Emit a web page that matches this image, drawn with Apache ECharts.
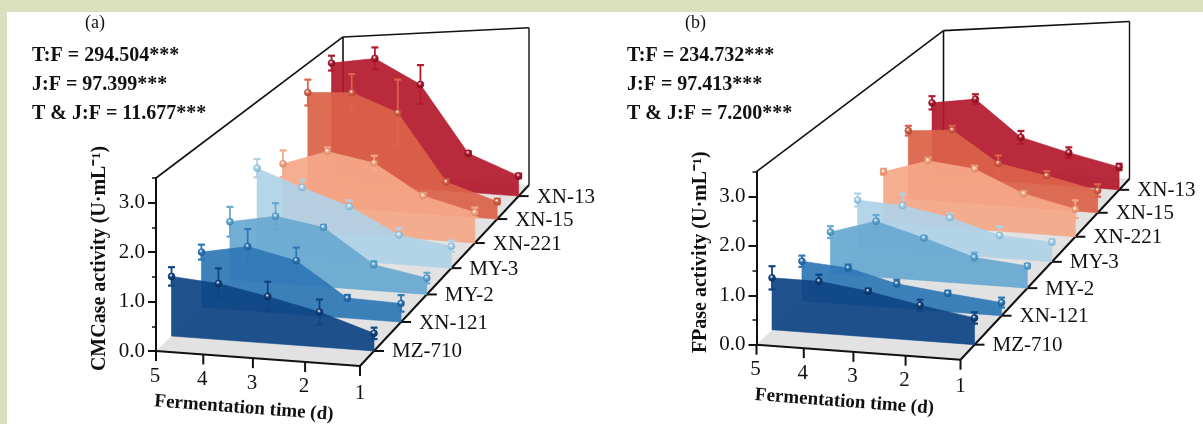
<!DOCTYPE html>
<html><head><meta charset="utf-8">
<script src="https://cdn.jsdelivr.net/npm/echarts@6/dist/echarts.min.js"></script>
<style>html,body{margin:0;padding:0;background:#fff}#c{width:1203px;height:424px}</style>
</head><body><div id="c"></div>
<script>
var days = [5, 4, 3, 2, 1];
var strains = ['MZ-710', 'XN-121', 'MY-2', 'MY-3', 'XN-221', 'XN-15', 'XN-13'];
var yTicks = [0, 1, 2, 3];

// Panel (a) CMCase activity, day 5 -> day 1
var cmcMZ710 = [1.23, 1.11, 0.89, 0.64, 0.31];
var cmcXN121 = [1.18, 1.32, 1.06, 0.38, 0.34];
var cmcMY2   = [1.29, 1.43, 1.22, 0.51, 0.31];
var cmcMY3   = [1.97, 1.54, 1.15, 0.60, 0.43];
var cmcXN221 = [1.55, 1.85, 1.60, 0.92, 0.62];
var cmcXN15  = [2.78, 2.75, 2.26, 0.73, 0.37];
var cmcXN13  = [3.05, 3.13, 2.47, 0.89, 0.44];
var cmcErrMZ710 = [0.19, 0.30, 0.28, 0.23, 0.10];
var cmcErrXN121 = [0.16, 0.36, 0.26, 0.06, 0.15];
var cmcErrMY2   = [0.33, 0.28, 0.05, 0.07, 0.10];
var cmcErrMY3   = [0.21, 0.17, 0.13, 0.14, 0.11];
var cmcErrXN221 = [0.32, 0.09, 0.16, 0.06, 0.10];
var cmcErrXN15  = [0.32, 0.44, 0.76, 0.06, 0.06];
var cmcErrXN13  = [0.19, 0.27, 0.46, 0.04, 0.05];

// Panel (b) FPase activity, day 5 -> day 1
var fpMZ710 = [1.07, 1.03, 0.87, 0.65, 0.47];
var fpXN121 = [0.85, 0.75, 0.48, 0.35, 0.24];
var fpMY2   = [0.92, 1.19, 0.87, 0.53, 0.42];
var fpMY3   = [1.09, 1.00, 0.78, 0.46, 0.39];
var fpXN221 = [1.21, 1.49, 1.33, 0.83, 0.56];
var fpXN15  = [1.68, 1.71, 0.96, 0.73, 0.47];
var fpXN13  = [1.87, 1.97, 1.07, 0.76, 0.50];
var fpErrMZ710 = [0.24, 0.13, 0.05, 0.10, 0.10];
var fpErrXN121 = [0.12, 0.07, 0.08, 0.05, 0.09];
var fpErrMY2   = [0.13, 0.13, 0.04, 0.09, 0.04];
var fpErrMY3   = [0.15, 0.26, 0.08, 0.18, 0.05];
var fpErrXN221 = [0.07, 0.07, 0.07, 0.06, 0.18];
var fpErrXN15  = [0.12, 0.10, 0.18, 0.10, 0.13];
var fpErrXN13  = [0.17, 0.12, 0.15, 0.12, 0.07];

var colors = ['#0f4585', '#2f78b7', '#68a9d1', '#afd2e7', '#f5a888', '#dc6249', '#b41a2e'];
var edge   = ['#0a2f5c', '#1c5a92', '#3f86b5', '#7fb2d2', '#d98a68', '#b04a33', '#7f0f1f'];
var serif = '"Liberation Serif","Times New Roman",serif';

// Camera: floor corners relative to the front-left axis origin, in px of a 204x173 box
var cam = { brX: 373, brY: -166, blX: 187, blY: -180, frY: 15, kU: 1.105, kV: 1.177,
            hFL: 1, hFR: 1.172, hBL: 0.775, hBR: 0.909 };
function warp(cs, px, py, vFrac) {
  var s = (px - cs.x) / cs.width;
  var u = s / (s + cam.kU * (1 - s));
  var v = vFrac;
  var hf = (cam.hFL * (1 - u) + cam.hFR * u) * (1 - v) + (cam.hBL * (1 - u) + cam.hBR * u) * v;
  var rise = (cs.y + cs.height - py) * hf;
  var fx = u * cs.width * (1 - v) + (cam.blX * (1 - u) + cam.brX * u) * v;
  var fy = u * cam.frY * (1 - v) + (cam.blY * (1 - u) + cam.brY * u) * v;
  return [cs.x + fx, cs.y + cs.height + fy - rise];
}
function vOf(i) { var t = (i + 0.5) / strains.length; return t * cam.kV / (1 + t * (cam.kV - 1)); }

function ribbon(idx, name, vals, errs, gridIdx) {
  var rows = days.map(function (d, j) { return [d, vals[j], errs[j]]; });
  return {
    type: 'custom', name: name, xAxisIndex: gridIdx, yAxisIndex: gridIdx * 2, z: 9 - idx, silent: true,
    data: rows, clip: false,
    renderItem: function (params, api) {
      var cs = params.coordSys, v = vOf(idx);
      function P(d, y) { var c = api.coord([d, y]); return warp(cs, c[0], c[1], v); }
      var d = api.value(0), y = api.value(1), e = api.value(2), kids = [];
      var p = P(d, y), top = P(d, y + e), bot = P(d, y - e), cap = 3.5, col = colors[idx];
      kids.push({ type: 'line', z2: 1, shape: { x1: top[0], y1: top[1], x2: bot[0], y2: bot[1] }, style: { stroke: col, lineWidth: 1.8 } });
      kids.push({ type: 'line', z2: 1, shape: { x1: top[0] - cap, y1: top[1], x2: top[0] + cap, y2: top[1] }, style: { stroke: col, lineWidth: 2.2 } });
      kids.push({ type: 'line', z2: 1, shape: { x1: bot[0] - cap, y1: bot[1], x2: bot[0] + cap, y2: bot[1] }, style: { stroke: col, lineWidth: 2.2 } });
      if (params.dataIndex === 0) {
        var pts = rows.map(function (r) { return P(r[0], r[1]); });
        pts.push(P(days[days.length - 1], 0));
        pts.push(P(days[0], 0));
        kids.push({ type: 'polygon', z2: 2, shape: { points: pts }, style: { fill: col, opacity: 0.93, stroke: col, lineWidth: 0.6 } });
      }
      kids.push({ type: 'circle', z2: 3, shape: { cx: p[0], cy: p[1], r: 3.4 }, style: {
        fill: { type: 'radial', x: 0.42, y: 0.36, r: 0.62, colorStops: [
          { offset: 0, color: '#ffffff' }, { offset: 0.4, color: col }, { offset: 1, color: edge[idx] }] },
        stroke: edge[idx], lineWidth: 0.7 } });
      return { type: 'group', children: kids };
    }
  };
}

function frame(gridIdx) {
  return {
    type: 'custom', xAxisIndex: gridIdx, yAxisIndex: gridIdx * 2, z: 1, silent: true, clip: false,
    data: [[days[0], 0]],
    renderItem: function (params, api) {
      var cs = params.coordSys, kids = [];
      var yMax = 3.5;
      function P(d, y, v) { var c = api.coord([d, y]); return warp(cs, c[0], c[1], v); }
      var a = P(5, 0, 0), b = P(1, 0, 0), c = P(1, 0, 1), e = P(5, 0, 1);
      var at = P(5, yMax, 0), ct = P(1, yMax, 1), et = P(5, yMax, 1);
      kids.push({ type: 'polygon', shape: { points: [a, b, c, e] }, style: { fill: '#e2e2e2' } });
      function L(p, q, w) { kids.push({ type: 'line', shape: { x1: p[0], y1: p[1], x2: q[0], y2: q[1] }, style: { stroke: '#111', lineWidth: w || 1.6 } }); }
      L(at, et); L(et, ct); L(ct, c, 1.4); L(et, e, 1.6);
      L(a, b, 2); L(b, c, 2);
      days.forEach(function (d) {
        var q = P(d, 0, 0);
        L(q, [q[0], q[1] + 10], 2);
        kids.push({ type: 'text', style: { text: String(d), x: q[0] - (d === 1 ? 0 : 1), y: q[1] + 23 + (d === 1 ? 4 : 2), align: 'center', verticalAlign: 'middle', font: '21px ' + serif, fill: '#111' } });
      });
      strains.forEach(function (s, i) {
        var q = P(1, 0, vOf(i));
        L(q, [q[0] + 10, q[1]], 2);
        kids.push({ type: 'text', style: { text: s, x: q[0] + 18, y: q[1] + 1, align: 'left', verticalAlign: 'middle', font: '21px ' + serif, fill: '#111' } });
      });
      var m = P(3, 0, 0);
      kids.push({ type: 'text', x: m[0] - 9, y: m[1] + 50, rotation: -0.075,
        style: { text: 'Fermentation time (d)', x: 0, y: 0, align: 'center', verticalAlign: 'middle', font: 'bold 19px ' + serif, fill: '#111' } });
      return { type: 'group', children: kids };
    }
  };
}

function yMinor(g, name) {
  return { gridIndex: g, type: 'value', min: 0, max: 3.5, interval: 0.5, position: 'left', splitLine: { show: false },
    axisLine: { show: true, lineStyle: { color: '#111', width: 2 } },
    axisTick: { show: true, length: 4, lineStyle: { color: '#111', width: 1.5 } }, axisLabel: { show: false } };
}
function yMajor(g, name) {
  return { gridIndex: g, type: 'value', min: 0, max: 3.5, position: 'left', splitLine: { show: false },
    axisLine: { show: false },
    axisTick: { show: true, length: 8, customValues: yTicks, lineStyle: { color: '#111', width: 2 } },
    axisLabel: { show: true, customValues: yTicks, margin: 11, color: '#111', fontFamily: serif, fontSize: 21,
      formatter: function (v) { return v.toFixed(1); } },
    name: name, nameLocation: 'middle', nameGap: 46, nameRotate: 90,
    nameTextStyle: { color: '#111', fontFamily: serif, fontSize: 20, fontWeight: 'bold', padding: [0, 0, 0, 12] } };
}

var stats = [
  { x: 32, t: ['T:F = 294.504***', 'J:F = 97.399***', 'T & J:F = 11.677***'], lab: '(a)', lx: 85 },
  { x: 627, t: ['T:F = 234.732***', 'J:F = 97.413***', 'T & J:F = 7.200***'], lab: '(b)', lx: 685 }
];
var gfx = [
  { type: 'rect', shape: { x: 0, y: 0, width: 1203, height: 12 }, style: { fill: '#dadfbe' }, silent: true },
  { type: 'rect', shape: { x: 0, y: 0, width: 7, height: 424 }, style: { fill: '#dadfbe' }, silent: true }
];
stats.forEach(function (s) {
  gfx.push({ type: 'text', x: s.lx, y: 23, style: { text: s.lab, font: '18px ' + serif, fill: '#111', verticalAlign: 'middle' } });
  s.t.forEach(function (t, i) {
    gfx.push({ type: 'text', x: s.x, y: 56 + i * 28.7, style: { text: t, font: 'bold 20px ' + serif, fill: '#111', verticalAlign: 'middle' } });
  });
});

var cmcVals = [cmcMZ710, cmcXN121, cmcMY2, cmcMY3, cmcXN221, cmcXN15, cmcXN13];
var cmcErrs = [cmcErrMZ710, cmcErrXN121, cmcErrMY2, cmcErrMY3, cmcErrXN221, cmcErrXN15, cmcErrXN13];
var fpVals = [fpMZ710, fpXN121, fpMY2, fpMY3, fpXN221, fpXN15, fpXN13];
var fpErrs = [fpErrMZ710, fpErrXN121, fpErrMY2, fpErrMY3, fpErrXN221, fpErrXN15, fpErrXN13];

var series = [frame(0), frame(1)];
strains.forEach(function (s, i) {
  series.push(ribbon(i, s, cmcVals[i], cmcErrs[i], 0));
  series.push(ribbon(i, s, fpVals[i], fpErrs[i], 1));
});

var xAxisBase = function (g) { return { gridIndex: g, type: 'value', min: 1, max: 5, inverse: true, show: false }; };
var chart = echarts.init(document.getElementById('c'), null, { renderer: 'canvas' });
chart.setOption({
  animation: false, backgroundColor: '#ffffff',
  grid: [
    { left: 156, top: 178, width: 204, height: 173 },
    { left: 756.5, top: 171.7, width: 204, height: 173 }
  ],
  xAxis: [xAxisBase(0), xAxisBase(1)],
  yAxis: [yMinor(0), yMajor(0, 'CMCase activity (U·mL⁻¹)'), yMinor(1), yMajor(1, 'FPase activity (U·mL⁻¹)')],
  graphic: gfx,
  series: series
});
</script></body></html>
